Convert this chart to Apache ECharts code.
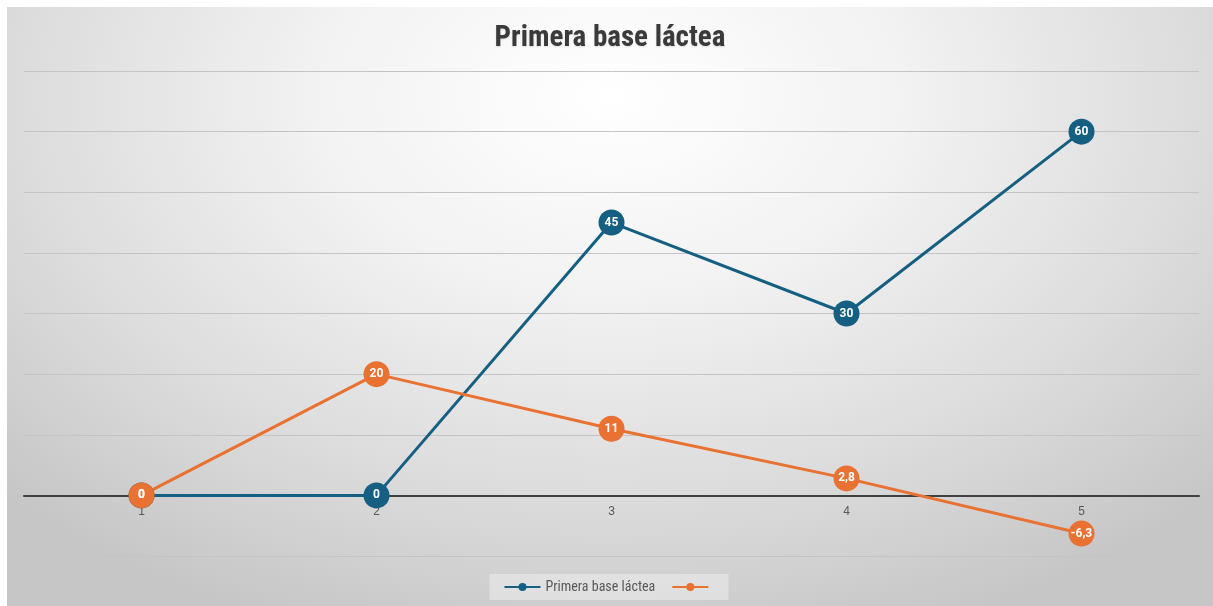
<!DOCTYPE html>
<html>
<head>
<meta charset="utf-8">
<script src="https://cdn.jsdelivr.net/npm/echarts@6/dist/echarts.min.js"></script>
<style>
html,body{margin:0;padding:0;background:#fff;width:1213px;height:606px;overflow:hidden;}
#chart{position:absolute;left:7px;top:7px;width:1206px;height:599px;
background:radial-gradient(ellipse 70% 95% at 50% 15%, #ffffff 0%, #f2f2f2 35%, #dcdcdc 70%, #c6c6c6 100%);}
</style>
</head>
<body>
<div id="chart"></div>
<script>
const titleText = 'Primera base láctea';
const categories = ['1', '2', '3', '4', '5'];
const seriesBlueName = 'Primera base láctea';
const seriesBlue = [0, 0, 45, 30, 60];
const seriesOrangeName = ' ';
const seriesOrange = [0, 20, 11, 2.8, -6.3];
const yMin = -10, yMax = 70, yStep = 10;

const gridTop = 64, gridBottom = 50, chartH = 599;
const gridH = chartH - gridTop - gridBottom;
const zeroOffset = -gridH * (0 - yMin) / (yMax - yMin);

const chart = echarts.init(document.getElementById('chart'), null, {renderer: 'canvas'});
const fmt = p => String(p.value).replace('.', ',');
function lineSeries(name, data, color) {
  return {
    name: name, type: 'line', data: data,
    symbol: 'circle', symbolSize: 26,
    lineStyle: {color: color, width: 3},
    itemStyle: {color: color},
    label: {show: true, position: 'inside', color: '#fff', fontWeight: 'bold', fontSize: 12,
            fontFamily: 'Roboto, sans-serif', formatter: fmt},
    emphasis: {disabled: true},
    animation: false
  };
}
chart.setOption({
  animation: false,
  title: {text: titleText, left: 'center', top: 12,
    textStyle: {fontSize: 29, fontWeight: 'bold', color: '#3a3a3a',
      fontFamily: 'Roboto Condensed, Roboto, sans-serif',
      textShadowColor: 'rgba(0,0,0,0.12)', textShadowBlur: 2, textShadowOffsetY: 1}},
  grid: {left: 17, right: 14, top: gridTop, bottom: gridBottom, containLabel: false},
  legend: {bottom: 6, left: 'center', itemWidth: 36, itemHeight: 10, itemGap: 16,
    backgroundColor: 'rgba(255,255,255,0.35)', padding: [6, 12, 6, 14],
    data: [seriesBlueName, seriesOrangeName],
    textStyle: {color: '#595959', fontSize: 14, fontFamily: 'Roboto Condensed, Roboto, sans-serif'}},
  xAxis: {type: 'category', data: categories, boundaryGap: true,
    offset: zeroOffset,
    axisLine: {onZero: false, lineStyle: {color: '#404040', width: 2}},
    axisTick: {show: false},
    axisLabel: {color: '#595959', fontSize: 12, margin: 10}},
  yAxis: {type: 'value', min: yMin, max: yMax, interval: yStep,
    axisLabel: {show: false}, axisLine: {show: false}, axisTick: {show: false},
    splitLine: {lineStyle: {color: '#c4c4c4', width: 1}}},
  series: [lineSeries(seriesBlueName, seriesBlue, '#156082'), lineSeries(seriesOrangeName, seriesOrange, '#E97132')]
});
</script>
</body>
</html>
